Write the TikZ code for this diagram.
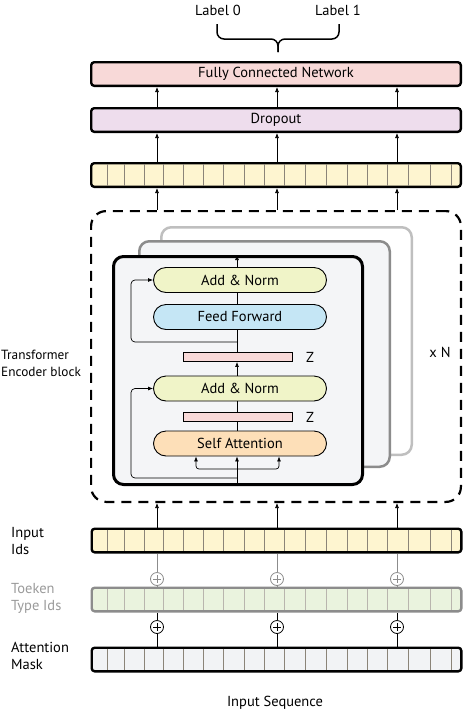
\documentclass[tikz,border=0pt]{standalone}
\usepackage{fontspec}
\setmainfont{PT Sans}
\usetikzlibrary{arrows.meta,shapes.misc,calc}
\definecolor{cfcn}{HTML}{F8D9D8}
\definecolor{cdrop}{HTML}{EEDDED}
\definecolor{cyel}{HTML}{FEF5D0}
\definecolor{cadd}{HTML}{F0F4C8}
\definecolor{cff}{HTML}{C5E6F5}
\definecolor{csa}{HTML}{FDDFB8}
\definecolor{cz}{HTML}{F8D9D8}
\definecolor{ctt}{HTML}{EAF3DE}
\definecolor{cam}{HTML}{F2F3F5}
\definecolor{cenc}{HTML}{F4F5F7}
\definecolor{ccell}{HTML}{8B8478}
\definecolor{cgraytxt}{HTML}{9A9A9A}
\tikzset{
  every node/.style={font=\fontsize{14.5}{17.5}\selectfont},
  rowbar/.style={draw, line width=2.4pt, rounded corners=3pt, minimum width=369.6pt, minimum height=23.6pt, inner sep=0pt},
  pill/.style={draw, line width=0.9pt, rounded rectangle, minimum width=173pt, minimum height=25pt, inner sep=0pt},
  zbar/.style={draw, line width=0.9pt, fill=cz, minimum width=109pt, minimum height=9pt, inner sep=0pt},
  arr/.style={-{Latex[length=5pt,width=4pt]}, line width=0.7pt},
  ln/.style={line width=0.7pt},
  cellline/.style={ccell, line width=0.9pt, shorten <=2.2pt, shorten >=2.2pt},
  plusc/.style={circle, draw, line width=0.8pt, minimum size=13pt, inner sep=0pt, fill=white,
     path picture={\draw[line width=0.8pt] ([xshift=-4pt]path picture bounding box.center) -- ([xshift=4pt]path picture bounding box.center)
       ([yshift=-4pt]path picture bounding box.center) -- ([yshift=4pt]path picture bounding box.center);}},
  lbl/.style={align=left, anchor=west, inner sep=0pt}
}
\begin{document}
\begin{tikzpicture}[x=1pt,y=-1pt]
\useasboundingbox (0,0) rectangle (465,713);
% column coordinates
\coordinate (c1) at (157,0);
\coordinate (c2) at (277,0);
\coordinate (c3) at (397,0);
% top labels and brace
\node (l0) at (218,10) {Label 0};
\node (l1) at (338,10) {Label 1};
\coordinate (b0) at (217,24);
\coordinate (b1) at (339,24);
\coordinate (bt) at (278,52);
\draw[line width=1.5pt, rounded corners=7pt] (b0) |- ($(bt)+(0,-13)$) -- (bt);
\draw[line width=1.5pt, rounded corners=7pt] (b1) |- ($(bt)+(0,-13)$) -- (bt);
% FCN, dropout, yellow row
\node[rowbar, fill=cfcn] (fcn) at (276,74) {Fully Connected Network};
\node[rowbar, fill=cdrop] (drop) at (276,120) {Dropout};
\node[rowbar, fill=cyel] (yel) at (276,175) {};
\foreach \x in {107,124,144,163,183,203,223,244,264,284,305,326,347,367,387,408,430,451}
  \draw[cellline] (yel.north -| \x,0) -- (yel.south -| \x,0);
\foreach \c in {c1,c2,c3}{
  \draw[arr] (drop.north -| \c) -- (fcn.south -| \c);
  \draw[arr] (yel.north -| \c) -- (drop.south -| \c);
}
% dashed encoder region
\node[draw, dashed, dash pattern=on 10pt off 7pt, line width=2.2pt, rounded corners=15pt, minimum width=369.8pt, minimum height=290.8pt, inner sep=0pt] (encbox) at (276,356.5) {};
\foreach \c in {c1,c2,c3}
  \draw[arr] (encbox.north -| \c) -- (yel.south -| \c);
% stacked encoder layers
\node[draw=black!25, fill=white!97!cenc, line width=2.5pt, rounded corners=10pt, minimum width=250.5pt, minimum height=227.5pt, inner sep=0pt] (lay3) at (286.5,341) {};
\node[draw=black!45, fill=cenc, line width=2.5pt, rounded corners=10pt, minimum width=250.5pt, minimum height=225.5pt, inner sep=0pt] (lay2) at (264.5,354) {};
\node[draw, fill=cenc, line width=3pt, rounded corners=10pt, minimum width=249pt, minimum height=228pt, inner sep=0pt] (front) at (238,370.5) {};
% inner blocks
\node[pill, fill=cadd] (an2) at (240,280) {Add \& Norm};
\node[pill, fill=cff] (ff) at (240,317) {Feed Forward};
\node[zbar] (z2) at (238,357) {};
\node[pill, fill=cadd] (an1) at (240,388.5) {Add \& Norm};
\node[zbar] (z1) at (238,417) {};
\node[pill, fill=csa] (sa) at (240,443.5) {Self Attention};
\node (zl2) at (310,357) {Z};
\node (zl1) at (310,417) {Z};
% main flow
\coordinate (cx) at (237,0);
\coordinate (rl) at (131,0);
\coordinate (s1) at (196,0);
\coordinate (s2) at (279,0);
\coordinate (br) at (237,469);
\coordinate (r1) at (237,478);
\coordinate (r2) at (237,342);
\draw[arr] (front.south -| cx) -- (sa.south -| cx);
\draw[arr, rounded corners=3pt] (br) -| (sa.south -| s1);
\draw[arr, rounded corners=3pt] (br) -| (sa.south -| s2);
\draw[ln] (sa.north -| cx) -- (z1.south -| cx);
\draw[ln] (z1.north -| cx) -- (an1.south -| cx);
\draw[arr] (an1.north -| cx) -- (z2.south -| cx);
\draw[ln] (z2.north -| cx) -- (ff.south -| cx);
\draw[ln] (ff.north -| cx) -- (an2.south -| cx);
\draw[arr] (an2.north -| cx) -- (front.north -| cx);
\draw[arr, rounded corners=4pt] (r1) -| (rl |- an1.west) -- (an1.west);
\draw[arr, rounded corners=4pt] (r2) -| (rl |- an2.west) -- (an2.west);
% side labels
\node[lbl, font=\fontsize{13.3}{17}\selectfont] (tlab) at (1,363.5) {Transformer\\Encoder block};
\node (xn) at (440,352) {x N};
% input rows
\node[rowbar, fill=cyel] (inp) at (276.5,540.5) {};
\node[rowbar, fill=ctt, draw=black!45] (tt) at (276.5,599.5) {};
\node[rowbar, fill=cam] (am) at (276.5,659.5) {};
\foreach \x in {107,124,144,163,183,203,223,244,264,284,305,326,347,367,387,408,430,451}{
  \draw[cellline] (inp.north -| \x,0) -- (inp.south -| \x,0);
  \draw[cellline, ccell!60] (tt.north -| \x,0) -- (tt.south -| \x,0);
  \draw[cellline] (am.north -| \x,0) -- (am.south -| \x,0);
}
\foreach \c/\i in {c1/1,c2/2,c3/3}{
  \draw[arr] (inp.north -| \c) -- (encbox.south -| \c);
  \node[plusc, draw=black!45] (pg\i) at ($(\c)+(0,579)$) {};
  \node[plusc] (pb\i) at ($(\c)+(0,627)$) {};
  \draw[ln, black!45] (tt.north -| \c) -- (pg\i.south);
  \draw[ln, black!45] (pg\i.north) -- (inp.south -| \c);
  \draw[ln] (am.north -| \c) -- (pb\i.south);
  \draw[ln] (pb\i.north) -- (tt.south -| \c);
}
\node[lbl] (inlab) at (11,541) {Input\\Ids};
\node[lbl, text=cgraytxt] (ttlab) at (11,598.5) {Toeken\\Type Ids};
\node[lbl] (amlab) at (11,656) {Attention\\Mask};
\node (seq) at (275,703) {Input Sequence};
\end{tikzpicture}
\end{document}
